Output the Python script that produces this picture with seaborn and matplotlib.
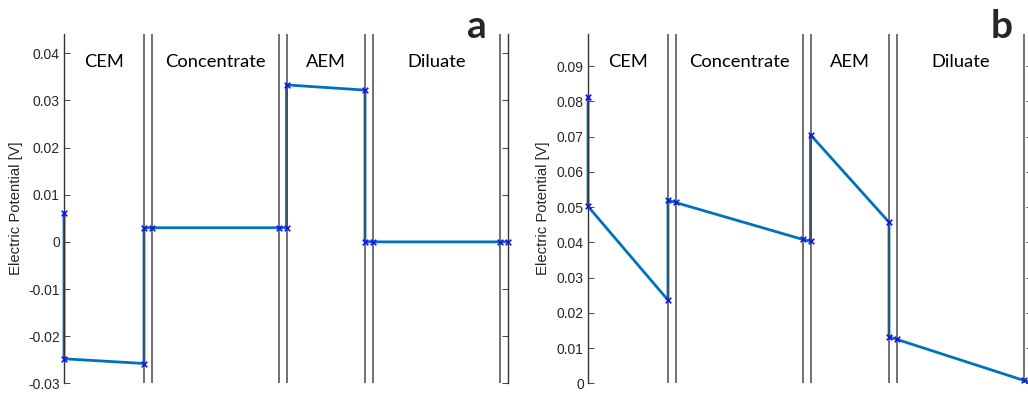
import matplotlib
matplotlib.use("Agg")
import matplotlib.pyplot as plt
import matplotlib.transforms as mtransforms
import seaborn as sns
import pandas as pd

# ---- data ----
position = [0, 0, 80, 80, 87.5, 215, 222.5, 222.5, 301, 301, 308.5, 436, 443.5]
potential_a = [0.0061, -0.0248, -0.0258, 0.0030, 0.0030, 0.0030, 0.0030, 0.0333,
               0.0322, 0.0000, 0.0000, 0.0000, 0.0000]
potential_b = [0.0813, 0.0502, 0.0236, 0.0520, 0.0513, 0.0408, 0.0403, 0.0705,
               0.0457, 0.0132, 0.0125, 0.0008, 0.0003]
boundaries = [0, 80, 87.5, 215, 222.5, 301, 308.5, 436, 443.5]
regions = ["CEM", "Concentrate", "AEM", "Diluate"]
region_centers = [40, 151.25, 261.75, 372.25]
ticks_a = [-0.03, -0.02, -0.01, 0, 0.01, 0.02, 0.03, 0.04]
ticklabels_a = ["-0.03", "-0.02", "-0.01", "0", "0.01", "0.02", "0.03", "0.04"]
ticks_b = [0, 0.01, 0.02, 0.03, 0.04, 0.05, 0.06, 0.07, 0.08, 0.09]
ticklabels_b = ["0", "0.01", "0.02", "0.03", "0.04", "0.05", "0.06", "0.07", "0.08", "0.09"]
ylim_a = (-0.03, 0.0441)
ylim_b = (0.0, 0.0991)
panel_letters = ["a", "b"]

sns.set_style("white")
plt.rcParams["font.family"] = ["Liberation Sans", "DejaVu Sans"]
plt.rcParams["axes.unicode_minus"] = False

W, H = 1028, 394
fig = plt.figure(figsize=(W / 100, H / 100), dpi=100)

ax_w = 443.5 / W
ax_h = (383.3 - 34) / H
ax_b = (H - 383.3) / H
axa = fig.add_axes([64 / W, ax_b, ax_w, ax_h])
axb = fig.add_axes([588 / W, ax_b, ax_w, ax_h])

line_col = "#0072BD"
mark_col = "#1414F0"
dark = "#262626"

def draw(ax, pot, ylim, ticks, ticklabels, label_x):
    df = pd.DataFrame({"x": position, "y": pot})
    sns.lineplot(data=df, x="x", y="y", sort=False, estimator=None, ax=ax,
                 color=line_col, linewidth=2.0, zorder=2)
    for ln in ax.get_lines():
        ln.set_clip_on(False)
    for b in boundaries[1:-1]:
        ax.axvline(b, color="#4a4a4a", linewidth=1.1, zorder=2.6)
    sns.scatterplot(data=df, x="x", y="y", ax=ax, marker="x", color=mark_col,
                    s=16, linewidth=1.2, zorder=3, clip_on=False)
    ax.set_xlim(boundaries[0], boundaries[-1])
    ax.set_ylim(*ylim)
    ax.set_xticks([])
    ax.set_xlabel("")
    ax.set_yticks(ticks)
    ax.set_yticklabels(ticklabels)
    ax.tick_params(axis="y", which="major", direction="in", length=4, width=0.6,
                   color=dark, labelcolor=dark, labelsize=10, pad=3,
                   left=True, right=True, labelleft=True, labelright=False)
    for s in ["top", "bottom"]:
        ax.spines[s].set_visible(False)
    for s in ["left", "right"]:
        ax.spines[s].set_visible(True)
        ax.spines[s].set_color("#333333")
        ax.spines[s].set_linewidth(1.0)
    ax.set_ylabel("Electric Potential [V]", fontsize=10.7, color=dark)
    ax.yaxis.set_label_coords(label_x, 0.5)
    trans = mtransforms.blended_transform_factory(ax.transData, ax.transAxes)
    for name, cx in zip(regions, region_centers):
        ax.text(cx, 0.905, name, transform=trans, ha="center", va="baseline",
                fontsize=13.2, family=["Lato", "DejaVu Sans"], color="black")

draw(axa, potential_a, ylim_a, ticks_a, ticklabels_a, (23 - 64) / 443.5)
draw(axb, potential_b, ylim_b, ticks_b, ticklabels_b, (550 - 588) / 443.5)

fig.text(477 / W, 1 - 38 / H, panel_letters[0], ha="center", va="baseline",
         fontsize=28, fontweight="bold", family=["Lato", "DejaVu Sans"])
fig.text(1002 / W, 1 - 38 / H, panel_letters[1], ha="center", va="baseline",
         fontsize=28, fontweight="bold", family=["Lato", "DejaVu Sans"])

fig.savefig("out.png", dpi=100, facecolor="white")
